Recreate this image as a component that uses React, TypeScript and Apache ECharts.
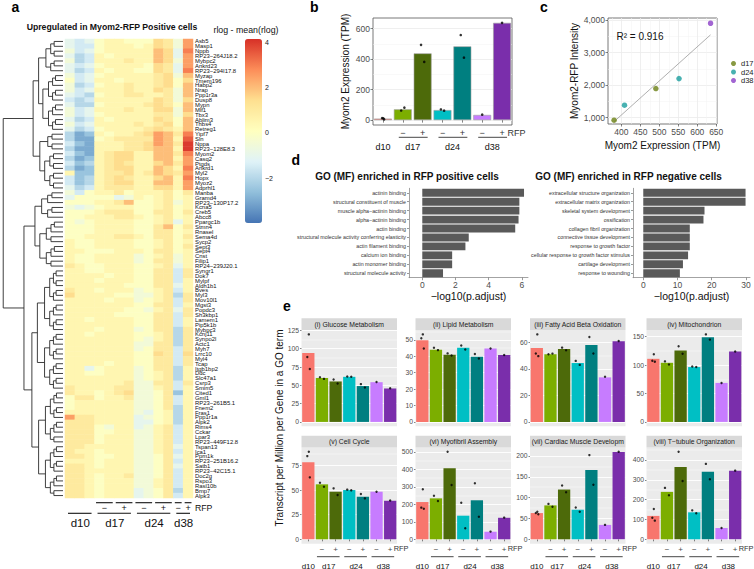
import React, { useEffect, useRef } from 'react';
import * as echarts from 'echarts';

const FONT = '"Liberation Sans", Arial, Helvetica, sans-serif';

// ---------------- panel a : heatmap ----------------
const genes = ['Asb5','Masp1','Nppb','RP23−264J18.2','Mybpc2','Ankrd23','RP23−294I17.8','Myzap','Tmem196','Habp2','Nrap','Ppp1r3a','Dusp8','Mypn','Mlf1','Tbx3','Ablim3','Thbs4','Retreg1','Yipf7','Sln','Nppa','RP23−128E8.3','Myom2','Casq2','Ptgds','Ankrd1','Myl2','Hopx','Myoz2','Adprhl1','Manba','Gramd4','RP23−130P17.2','Kcna5','Creb5','Abcc8','Ppargc1b','Stmn4','Rnasel','Sema4d','Sycp2','Sept3','Sept4','Cnst','Filip1','RP24−239J20.1','Syngr1','Dok7','Mylpf','Aldh1b1','Bves','Myl3','Mov10l1','Mgst3','Popdc3','Sh3kbp1','Lamem1','Pip5k1b','Mybpc3','Kcnj11','Synpo2l','Actc1','Myh7','Lrrc10','Myl4','Tcap','Itgb1bp2','Ddc','Slc47a1','Csrp3','Smim5','Cited1','Gml1','RP23−261B5.1','Fnem2','Fras1','Ppp1r1a','Alpk2','Rims4','Cckar','Lpar3','RP23−449F12.8','Tspan13','Ica1','Ppm1k','RP23−251B16.2','Satb1','RP23−42C15.1','Doc2g','Rspo3','Rasl10b','Bmp7','Alpk3'];
const heatSamples = ['d10 a','d10 b','d10 c','d17− a','d17− b','d17+ a','d17+ b','d24− a','d24− b','d24+ a','d24+ b','d38−','d38+'];
// one letter per cell: a=-3.5 ... p=4 (steps of 0.5)
const heatLevels = 'abcdefghijklmnop';
const heatRows = [
'fefhiihhhkjgm','feehiiihikjgm','gefhiiiiilkfn','fdeihiiiilkfm','gdeiiijiilkgm','fefhiiiihkjfm','fdeihiihhkjfn','gefhiiiiijkgl','hefiihiiijkhk','gdehiijiijkhl',
'gefiiijiikjgl','fedhiijjiijgl','edeiiiiiikjgk','fddhiiiijkjhl','gefiiijiikkgl','gefhiiiiijjgk','fdeihiiiikjhl','gefiiiijijkhl','fdehiiiijkjil','dbcihiijkmljn',
'dbbhijjjjmlio','ecbiiijjkmljp','dbbiiijjkllip','ecbijkkiilljn','dbcijkkiillim','ecdijkjiikljm','dbcijkkiilkin','iccijjkijlkjm','ecdijkjiiklin','ecdijkkiillim',
'fdeijjjiikkim','gehiijhiiijhj','fhhhhfgihijhi','hhhiijlhhijgi','gfghiiihhijhi','hhhijjjhhjjhj','hhiiijjihijhi','hghiiiihhijfi','hhhiiiihhjlhj','hhhiiiihhjjhi',
'hhiiijjihjjhj','ihhiiiihhijhi','ihhiiiihhijhj','iihhhiiihjjhi','ihhiiiighijgi','ihhiiiighjjgi','jihhiiihhijfi','iihhiiihhjjej','iiiihiihhjjej','iiihiiihhjjei',
'iiiiiihhhjjfi','jiihiiighijei','kiiiihhggijdj','iiiihiighijej','iiiiiiihhjjei','iiiiiihhgijfj','iiiiihhhhjjej','iihiiiihhjjei','iiiiiiihhjjei','iiihiiighjjdj',
'iihiiiihhijdj','iiiiiiihgijdj','iiiiiiiggjjdj','iiiiiiighjjej','iiiiiiihhkjek','iiiiiiihhjjej','iiiihiihhjjej','iifhiiighjjdi','iihhiiighijdi','iiiiiiighijdi',
'iiiiiijggjjej','jiiiijjggijei','jiihijkgghjci','hjjhiijgghjei','hiiiiiigghjei','hiiiiiigghjdi','iiiiiiigfhidi','mjjiiiifghidi','jjjiiiiffhidi','jjjhgiifgijei',
'jjjhhiiggijei','jjjhiiiggijei','jjjhiiiggijei','jjiiiiiggijfi','jiihiiiggijei','jjihhiigghjfi','iiihiiigghjei','jjihiiigghjfi','jjiiiiigghjei','jjihiijgghjei',
'jjihiiiggijei','jjihiiiggijei','jjihiiifghjdi','jjihiiifghjei'];
const heatRange = [-3.99, 4.16];
const heatTicks = [4, 2, 0, -2];
const heatPalette = ['#4575B4', '#91BFDB', '#E0F3F8', '#FFFFBF', '#FEE090', '#FC8D59', '#D73027'];
// dendrogram: [height, left, right] ; leaves given as [height, firstRow, lastRow]
const dendroTree: any = [0.98,
  [0.49, [0.40, [0.28, 0, 6], [0.33, 7, 18]], [0.38, [0.25, 19, 22], [0.30, 23, 30]]],
  [0.64, [0.46, [0.35, 31, 36], [0.38, 37, 46]], [0.51, [0.42, 47, 71], [0.40, 72, 93]]]];

// ---------------- shared groups ----------------
const groups = ['d10', 'd17−', 'd17+', 'd24−', 'd24+', 'd38−', 'd38+'];
const rfpLabels = ['', '−', '+', '−', '+', '−', '+'];
const dayLabels = ['d10', 'd17', 'd24', 'd38'];
const daySpans = [[0, 0], [1, 2], [3, 4], [5, 6]];
const groupColors = ['#F8766D', '#7CAE00', '#4D6A0A', '#00BFC4', '#007F80', '#C77CFF', '#7A2EAB'];

// ---------------- panel b ----------------
const bBars = [10, 71, 438, 66, 484, 34, 638];
const bPoints = [[12, 13, 5], [63, 82], [494, 382], [70, 62], [558, 410], [36], [638]];
const bTicks = [0, 200, 400, 600];

// ---------------- panel c ----------------
const cDays = ['d17', 'd24', 'd38'];
const cTPM = [[381, 491], [408.5, 552], [635]];
const cIntensity = [[917, 1893], [1379, 2200], [3908]];
const cXTicks = [400, 450, 500, 550, 600, 650];
const cYTicks = [1000, 2000, 3000, 4000];
const cR2 = '0.916';

// ---------------- panel d ----------------
const goPosTerms = ['actinin binding', 'structural constituent of muscle', 'muscle alpha−actinin binding', 'alpha−actinin binding', 'actin binding', 'structural molecule activity conferring elasticity', 'actin filament binding', 'calcium ion binding', 'actin monomer binding', 'structural molecule activity'];
const goPosValues = [6.13, 5.85, 5.85, 5.8, 5.6, 2.8, 2.6, 1.8, 1.8, 1.25];
const goPosTicks = [0, 2, 4, 6];
const goNegTerms = ['extracellular structure organization', 'extracellular matrix organization', 'skeletal system development', 'ossification', 'collagen fibril organization', 'connective tissue development', 'response to growth factor', 'cellular response to growth factor stimulus', 'cartilage development', 'response to wounding'];
const goNegValues = [29.9, 29.9, 17.9, 17.6, 13.6, 13.6, 13.6, 13.1, 11.6, 10.7];
const goNegTicks = [0, 10, 20, 30];

// ---------------- panel e ----------------
const eTitles = ['(i) Glucose Metabolism', '(ii) Lipid Metabolism', '(iii) Fatty Acid Beta Oxidation', '(iv) Mitochondrion', '(v) Cell Cycle', '(vi) Myofibril Assembly', '(vii) Cardiac Muscle Development', '(viii) T−tubule Organization'];
const eBars = [
  [94, 60, 55.3, 61.6, 49, 54.3, 45.7],
  [49.8, 44, 41, 45.2, 39.8, 44.8, 40.8],
  [55.7, 51, 55, 44.4, 57.9, 33.6, 60.9],
  [111, 104, 125.6, 96.5, 149, 68.6, 124],
  [78.4, 55.9, 48.4, 50.1, 43.3, 48.4, 39.2],
  [213, 234, 406, 135, 223, 43.4, 123],
  [63, 81.4, 119.4, 71, 166, 34.6, 209.7],
  [118, 239, 364, 136, 340, 57, 346],
];
const ePoints = [
  [[119.6, 88.7, 72.4], [61, 58.8], [58, 52.6], [62, 61.8], [51.6, 47], [54.5], [46]],
  [[53.4, 51, 44.8], [45.2, 43.8], [41.8, 40.5], [46.6, 44.2], [41.4, 38.7], [44.8], [40.8]],
  [[66, 51.6, 49.6], [51, 51.5], [56, 54], [46, 43], [64, 51.6], [34], [61]],
  [[119, 107.6, 106], [106.5, 101], [133, 120], [97.5, 96.5], [154, 144.8], [68.6], [124]],
  [[89, 84.6, 63], [57.5, 53.5], [51.8, 45], [50.5, 49.8], [46, 41.6], [48.3], [39.5]],
  [[286, 181, 175], [249, 219], [500, 310], [209, 63], [320, 129], [44], [124]],
  [[66, 63, 60], [85, 78], [129, 113], [76.5, 66], [202, 131], [34.6], [210]],
  [[153, 109, 94], [259, 222], [441, 294], [146, 131], [380, 303], [57], [346]],
];
const eTicks = [[0, 25, 50, 75, 100, 125], [0, 10, 20, 30, 40, 50], [0, 20, 40, 60], [0, 50, 100, 150], [0, 25, 50, 75], [0, 100, 200, 300, 400, 500], [0, 50, 100, 150, 200], [0, 100, 200, 300, 400]];

// ---------------- layout / style ----------------
const HM = { left: 65, top: 39, width: 128, height: 459 };
const B = { left: 373, top: 18, width: 139, height: 107 };
const C = { left: 608, top: 18, width: 109, height: 106 };
const D_TOP = 188.3, D_H = 89.4;
const E_LEFT = [301.5, 415.5, 530, 646.5], E_W = 95.5, E_TOP = [330, 447.4], E_H = 96.3, STRIP_H = 11.7;
const JIT = [[0.5, -1, 1.5], [-2, 2], [-2, 2], [-2, 2], [-2, 2], [0], [0]];
const cColors = ['#6A7F14', '#1A9E9E', '#8B3FC7'];

function minorsOf(ticks: number[], min: number, max: number) {
  const step = ticks[1] - ticks[0];
  const out: number[] = [];
  for (let v = ticks[0] - step / 2; v <= max + 1e-9; v += step) if (v >= min) out.push(v);
  return out;
}

function buildOption() {
  const grid: any[] = [], xAxis: any[] = [], yAxis: any[] = [], series: any[] = [], gfx: any[] = [];
  const addGrid = (g: any) => { grid.push({ containLabel: false, outerBoundsMode: 'none', ...g }); return grid.length - 1; };
  const addX = (a: any) => { xAxis.push(a); return xAxis.length - 1; };
  const addY = (a: any) => { yAxis.push(a); return yAxis.length - 1; };
  const text = (x: number, y: number, s: string, size: number, st: any = {}, extra: any = {}) =>
    gfx.push({ type: 'text', x, y, silent: true, z: 50, ...extra, style: { text: s, fontSize: size, fontFamily: FONT, fill: '#1a1a1a', align: 'center', verticalAlign: 'middle', ...st } });
  const seg = (x1: number, y1: number, x2: number, y2: number, color = '#333', w = 0.9) =>
    gfx.push({ type: 'line', silent: true, z: 50, shape: { x1, y1, x2, y2 }, style: { stroke: color, lineWidth: w } });
  const hidden = { show: false };
  const minorAxis = (gi: number, min: number, max: number, vals: number[], color: string, width: number, isX = false) => {
    const ax = { gridIndex: gi, type: 'value', min, max, position: isX ? 'top' : 'right', axisLine: hidden, axisLabel: { show: false, customValues: vals }, axisTick: { show: false, customValues: vals }, splitLine: { show: true, lineStyle: { color, width } } };
    return isX ? addX(ax) : addY(ax);
  };

  // ===== panel a : heatmap =====
  const gA = addGrid(HM);
  const xA = addX({ gridIndex: gA, type: 'category', data: heatSamples, show: false });
  const yA = addY({ gridIndex: gA, type: 'category', data: genes, inverse: true, position: 'right', axisLine: hidden, axisTick: hidden, splitLine: hidden,
    axisLabel: { interval: 0, fontSize: 5.9, margin: 2, color: '#111', fontFamily: FONT } });
  const heatData: number[][] = [];
  heatRows.forEach((row, r) => row.split('').forEach((ch, c) => heatData.push([c, r, -3.5 + heatLevels.indexOf(ch) * 0.5])));
  series.push({ type: 'heatmap', xAxisIndex: xA, yAxisIndex: yA, data: heatData, silent: true, itemStyle: { borderWidth: 0 }, emphasis: { disabled: true } });

  // dendrogram
  const gDen = addGrid({ left: 2, top: HM.top, width: 61, height: HM.height });
  const xDen = addX({ gridIndex: gDen, type: 'value', min: 0, max: 1, inverse: true, show: false });
  const yDen = addY({ gridIndex: gDen, type: 'value', min: -0.5, max: genes.length - 0.5, inverse: true, show: false });
  const segs: number[][] = [];
  const auto = (lo: number, hi: number, h: number): { y: number; h: number } => {
    if (lo === hi) return { y: lo, h: 0 };
    const mid = Math.floor((lo + hi) / 2);
    const a = auto(lo, mid, h * 0.72), b = auto(mid + 1, hi, h * 0.72);
    segs.push([h, a.y, h, b.y], [h, a.y, a.h, a.y], [h, b.y, b.h, b.y]);
    return { y: (a.y + b.y) / 2, h };
  };
  const build = (n: any): { y: number; h: number } => {
    if (typeof n[1] === 'number') return auto(n[1], n[2], n[0]);
    const a = build(n[1]), b = build(n[2]);
    segs.push([n[0], a.y, n[0], b.y], [n[0], a.y, a.h, a.y], [n[0], b.y, b.h, b.y]);
    return { y: (a.y + b.y) / 2, h: n[0] };
  };
  build(dendroTree);
  series.push({ type: 'custom', xAxisIndex: xDen, yAxisIndex: yDen, data: segs, silent: true, encode: { x: [0, 2], y: [1, 3] },
    renderItem: (_p: any, api: any) => {
      const p1 = api.coord([api.value(0), api.value(1)]);
      const p2 = api.coord([api.value(2), api.value(3)]);
      return { type: 'line', shape: { x1: p1[0], y1: p1[1], x2: p2[0], y2: p2[1] }, style: { stroke: '#2b2b2b', lineWidth: 0.9 } };
    } });

  // heatmap titles, colorbar labels, annotations
  text(11.5, 7, 'a', 14, { fontWeight: 'bold', align: 'left', fill: '#000' });
  text(112, 27, 'Upregulated in Myom2-RFP Positive cells', 8.7, { fontWeight: 'bold', fill: '#111' });
  text(246, 30, 'rlog - mean(rlog)', 8.8, { fill: '#111' });
  const cbTop = HM.top, cbH = 184;
  heatTicks.forEach(v => text(265, cbTop + (heatRange[1] - v) / (heatRange[1] - heatRange[0]) * cbH, v < 0 ? '−' + Math.abs(v) : String(v), 7, { align: 'left', fill: '#222' }));
  const colW = HM.width / heatSamples.length;
  const colSpans = [[3, 4], [5, 6], [7, 8], [9, 10], [11, 11], [12, 12]];
  colSpans.forEach((sp, i) => {
    const x1 = HM.left + sp[0] * colW + 1.5, x2 = HM.left + (sp[1] + 1) * colW - 1.5;
    seg(x1, 502.7, x2, 502.7, '#111', 1.1);
    text((x1 + x2) / 2, 508, rfpLabels[i + 1], 9, { fill: '#111' });
  });
  text(HM.left + HM.width + 2, 508, 'RFP', 8.7, { align: 'left', fill: '#111' });
  const heatDaySpans = [[0, 2], [3, 6], [7, 10], [11, 12]];
  heatDaySpans.forEach((sp, i) => {
    const x1 = HM.left + sp[0] * colW + 3, x2 = HM.left + (sp[1] + 1) * colW - 3;
    seg(x1, 513.3, x2, 513.3, '#111', 1.1);
    text((x1 + x2) / 2 + 0.5, 523, dayLabels[i], 11.5, { fill: '#111' });
  });

  // ===== panel b =====
  const gB = addGrid({ ...B, show: true, borderColor: '#555', borderWidth: 0.8, backgroundColor: '#fff' });
  const bMax = Math.max(...bBars, ...bPoints.flat());
  const bMin = -0.05 * bMax, bTop = 1.05 * bMax;
  const xB = addX({ gridIndex: gB, type: 'category', data: groups, axisLine: hidden, splitLine: hidden,
    axisTick: { show: true, alignWithLabel: true, length: 2.5, lineStyle: { color: '#333', width: 0.6 } },
    axisLabel: { interval: 0, formatter: (_v: any, i: number) => rfpLabels[i], fontSize: 9, color: '#333', margin: 3 } });
  const yB = addY({ gridIndex: gB, type: 'value', min: bMin, max: bTop, axisLine: hidden,
    axisTick: { show: true, length: 2.5, customValues: bTicks, lineStyle: { color: '#333', width: 0.6 } },
    axisLabel: { customValues: bTicks, fontSize: 8.5, color: '#4d4d4d', margin: 3 },
    splitLine: { show: true, lineStyle: { color: '#EBEBEB', width: 0.8 } },
    name: 'Myom2 Expression (TPM)', nameLocation: 'middle', nameGap: 23, nameTextStyle: { fontSize: 10, color: '#111' } });
  minorAxis(gB, bMin, bTop, minorsOf(bTicks, bMin, bTop), '#F3F3F3', 0.5);
  series.push({ type: 'bar', xAxisIndex: xB, yAxisIndex: yB, barCategoryGap: '10%', silent: true,
    itemStyle: { borderColor: '#a0a0a0', borderWidth: 0.6 },
    data: bBars.map((v, i) => ({ value: v, itemStyle: { color: groupColors[i] } })) });
  const bPts: any[] = [];
  bPoints.forEach((g, i) => g.forEach((v, j) => bPts.push({ value: [i, v], symbolOffset: [JIT[i][j] * 0.8, 0] })));
  series.push({ type: 'scatter', xAxisIndex: xB, yAxisIndex: yB, symbolSize: 2.6, silent: true, z: 5, itemStyle: { color: '#000' }, data: bPts });
  const bCat = (i: number) => B.left + (i + 0.5) * B.width / groups.length;
  daySpans.forEach((sp, i) => {
    if (sp[1] > sp[0]) seg(bCat(sp[0]) - 4, 137.3, bCat(sp[1]) + 5, 137.3, '#333', 0.9);
    text((bCat(sp[0]) + bCat(sp[1])) / 2, 147, dayLabels[i], 9, { fill: '#111' });
  });
  text(bCat(6) + 5.5, 133, 'RFP', 9, { align: 'left', fill: '#333' });
  text(310, 7, 'b', 14, { fontWeight: 'bold', align: 'left', fill: '#000' });

  // ===== panel c =====
  const gC = addGrid({ ...C, show: true, borderColor: '#555', borderWidth: 0.8, backgroundColor: '#fff' });
  const cxMin = 365, cxMax = 652, cyMin = 800, cyMax = 4070;
  const xC = addX({ gridIndex: gC, type: 'value', min: cxMin, max: cxMax, axisLine: hidden,
    axisTick: { show: true, length: 2.5, customValues: cXTicks, lineStyle: { color: '#333', width: 0.6 } },
    axisLabel: { customValues: cXTicks, fontSize: 8.5, color: '#4d4d4d', margin: 3 },
    splitLine: { show: true, lineStyle: { color: '#EBEBEB', width: 0.8 } },
    name: 'Myom2 Expression (TPM)', nameLocation: 'middle', nameGap: 16, nameTextStyle: { fontSize: 10, color: '#111' } });
  const yC = addY({ gridIndex: gC, type: 'value', min: cyMin, max: cyMax, axisLine: hidden,
    axisTick: { show: true, length: 2.5, customValues: cYTicks, lineStyle: { color: '#333', width: 0.6 } },
    axisLabel: { customValues: cYTicks, fontSize: 8.5, color: '#4d4d4d', margin: 3, formatter: (v: number) => v.toLocaleString('en-US') },
    splitLine: { show: true, lineStyle: { color: '#EBEBEB', width: 0.8 } },
    name: 'Myom2-RFP Intensity', nameLocation: 'middle', nameGap: 25, nameTextStyle: { fontSize: 10, color: '#111' } });
  minorAxis(gC, cxMin, cxMax, minorsOf(cXTicks, cxMin, cxMax), '#F3F3F3', 0.5, true);
  minorAxis(gC, cyMin, cyMax, minorsOf(cYTicks, cyMin, cyMax), '#F3F3F3', 0.5);
  const allX = cTPM.flat(), allY = cIntensity.flat();
  const mx = allX.reduce((s, v) => s + v, 0) / allX.length, my = allY.reduce((s, v) => s + v, 0) / allY.length;
  let sxy = 0, sxx = 0;
  allX.forEach((x, i) => { sxy += (x - mx) * (allY[i] - my); sxx += (x - mx) * (x - mx); });
  const slope = sxy / sxx, icpt = my - slope * mx;
  const x0 = Math.min(...allX), x1 = Math.max(...allX);
  series.push({ type: 'line', xAxisIndex: xC, yAxisIndex: yC, silent: true, symbol: 'none', z: 1,
    lineStyle: { color: '#9a9a9a', width: 0.8 }, data: [[x0, icpt + slope * x0], [x1, icpt + slope * x1]] });
  cDays.forEach((d, i) => series.push({ name: d, type: 'scatter', xAxisIndex: xC, yAxisIndex: yC, symbolSize: 5.5, silent: true, z: 5,
    itemStyle: { color: cColors[i] }, data: cTPM[i].map((x, j) => [x, cIntensity[i][j]]) }));
  text(616.5, 36.7, 'R² = ' + cR2, 10, { align: 'left', fill: '#111' });
  text(540, 7, 'c', 14, { fontWeight: 'bold', align: 'left', fill: '#000' });

  // ===== panel d =====
  const dPanels = [
    { left: 409, width: 119, min: -0.8, max: 6.37, ticks: goPosTicks, terms: goPosTerms, vals: goPosValues, title: 'GO (MF) enriched in RFP positive cells', tx: 407 },
    { left: 633, width: 117, min: -3.0, max: 31.2, ticks: goNegTicks, terms: goNegTerms, vals: goNegValues, title: 'GO (MF) enriched in RFP negative cells', tx: 628.5 },
  ];
  dPanels.forEach(p => {
    const g = addGrid({ left: p.left, top: D_TOP, width: p.width, height: D_H });
    const xi = addX({ gridIndex: g, type: 'value', min: p.min, max: p.max,
      axisLine: { show: true, onZero: false, lineStyle: { color: '#8c8c8c', width: 0.8 } },
      axisTick: { show: true, length: 2.5, customValues: p.ticks, lineStyle: { color: '#555', width: 0.6 } },
      axisLabel: { customValues: p.ticks, fontSize: 8.5, color: '#4d4d4d', margin: 3 }, splitLine: hidden,
      name: '−log10(p.adjust)', nameLocation: 'middle', nameGap: 12, nameTextStyle: { fontSize: 10.5, color: '#111' } });
    const yi = addY({ gridIndex: g, type: 'category', data: p.terms, inverse: true,
      axisLine: { show: true, onZero: false, lineStyle: { color: '#8c8c8c', width: 0.8 } },
      axisTick: { show: true, alignWithLabel: true, length: 2, lineStyle: { color: '#555', width: 0.6 } },
      axisLabel: { interval: 0, fontSize: 5.3, color: '#333', margin: 3 } });
    series.push({ type: 'bar', xAxisIndex: xi, yAxisIndex: yi, data: p.vals, barCategoryGap: '12%', silent: true, itemStyle: { color: '#595959' } });
    text(p.tx, 176, p.title, 10, { fontWeight: 'bold', fill: '#111' });
  });
  gfx.push({ type: 'rect', z: 100, silent: true, shape: { x: 255, y: 232, width: 35.2, height: 11 }, style: { fill: '#fff' } });
  text(291.5, 160, 'd', 14, { fontWeight: 'bold', align: 'left', fill: '#000' });

  // ===== panel e =====
  eTitles.forEach((title, p) => {
    const row = Math.floor(p / 4), col = p % 4;
    const left = E_LEFT[col], top = E_TOP[row];
    const g = addGrid({ left, top, width: E_W, height: E_H, show: true, backgroundColor: '#EBEBEB', borderWidth: 0 });
    const M = Math.max(...eBars[p], ...ePoints[p].flat());
    const min = -0.05 * M, max = 1.05 * M;
    const xi = addX({ gridIndex: g, type: 'category', data: groups, axisLine: hidden, splitLine: hidden,
      axisTick: { show: row === 1, alignWithLabel: true, length: 2, lineStyle: { color: '#333', width: 0.6 } },
      axisLabel: { show: row === 1, interval: 0, formatter: (_v: any, i: number) => rfpLabels[i], fontSize: 8, color: '#4d4d4d', margin: 2 } });
    const yi = addY({ gridIndex: g, type: 'value', min, max, axisLine: hidden,
      axisTick: { show: true, length: 1.5, customValues: eTicks[p], lineStyle: { color: '#333', width: 0.6 } },
      axisLabel: { customValues: eTicks[p], fontSize: 6.8, color: '#4d4d4d', margin: 2.5 },
      splitLine: { show: true, lineStyle: { color: '#ffffff', width: 0.9 } } });
    minorAxis(g, min, max, minorsOf(eTicks[p], min, max), '#ffffff', 0.45);
    series.push({ type: 'bar', xAxisIndex: xi, yAxisIndex: yi, barCategoryGap: '10%', silent: true,
      data: eBars[p].map((v, i) => ({ value: v, itemStyle: { color: groupColors[i] } })) });
    const pts: any[] = [];
    ePoints[p].forEach((gp, i) => gp.forEach((v, j) => pts.push({ value: [i, v], symbolOffset: [JIT[i][j], 0] })));
    series.push({ type: 'scatter', xAxisIndex: xi, yAxisIndex: yi, symbolSize: 2.4, silent: true, z: 5, itemStyle: { color: '#000' }, data: pts });
    gfx.push({ type: 'rect', silent: true, z: 40, shape: { x: left, y: top - STRIP_H, width: E_W, height: STRIP_H }, style: { fill: '#D9D9D9' } });
    text(left + E_W / 2, top - STRIP_H / 2, title, 6.8, { fill: '#1a1a1a', width: E_W, overflow: 'truncate', ellipsis: '' });
    if (row === 1) {
      const cat = (i: number) => left + (i + 0.5) * E_W / groups.length;
      daySpans.forEach((sp, i) => {
        if (sp[1] > sp[0]) seg(cat(sp[0]) - 5, 556.7, cat(sp[1]) + 4, 556.7, '#333', 0.9);
        text((cat(sp[0]) + cat(sp[1])) / 2, 566, dayLabels[i], 8, { fill: '#111' });
      });
      text(cat(6) + 3.5, 548.3, 'RFP', 7.4, { align: 'left', fill: '#333' });
    }
  });
  text(279, 428, 'Transcript per Million per Gene in a GO term', 10, { fill: '#111' }, { rotation: Math.PI / 2 });
  text(283, 306, 'e', 14, { fontWeight: 'bold', align: 'left', fill: '#000' });

  return {
    animation: false,
    backgroundColor: '#ffffff',
    textStyle: { fontFamily: FONT },
    grid, xAxis, yAxis, series,
    visualMap: [{
      type: 'continuous', seriesIndex: 0, min: heatRange[0], max: heatRange[1], inRange: { color: heatPalette },
      left: 245, top: cbTop, itemWidth: 17, itemHeight: cbH, padding: 0, calculable: false, realtime: false, hoverLink: false, text: null,
    }],
    legend: {
      data: cDays, orient: 'vertical', left: 731, top: 59.5, itemWidth: 5, itemHeight: 5, itemGap: 0.5, icon: 'circle',
      padding: 0, selectedMode: false, textStyle: { fontSize: 7.5, color: '#1a1a1a', lineHeight: 7.2 },
    },
    graphic: { elements: gfx },
  };
}

export default function App() {
  const ref = useRef<HTMLDivElement>(null);
  useEffect(() => {
    const chart = echarts.init(ref.current as HTMLDivElement, null, { renderer: 'svg' });
    chart.setOption(buildOption() as any);
    return () => chart.dispose();
  }, []);
  return <div ref={ref} style={{ position: 'absolute', left: 0, top: 0, width: 754, height: 569, background: '#fff' }} />;
}
